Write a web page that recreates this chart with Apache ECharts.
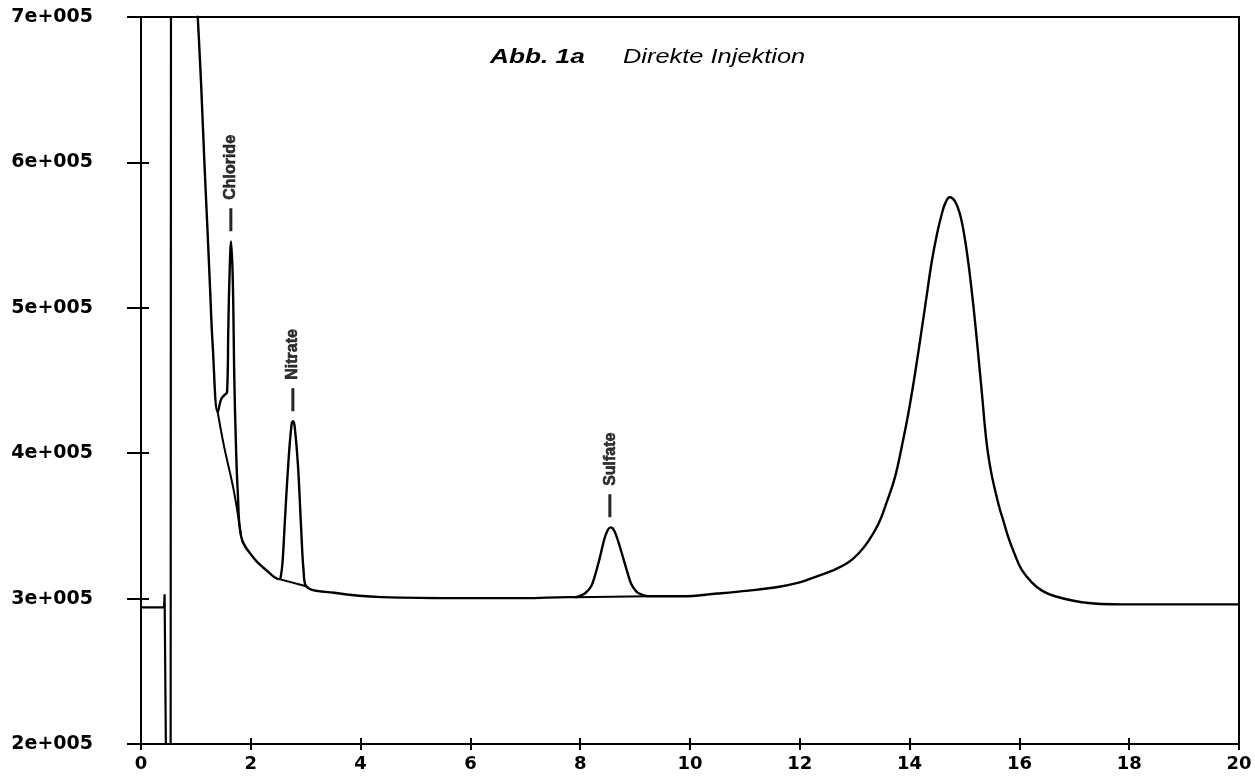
<!DOCTYPE html>
<html>
<head>
<meta charset="utf-8">
<script src="https://cdn.jsdelivr.net/npm/echarts@6/dist/echarts.min.js"></script>
<style>
html,body{margin:0;padding:0;background:#fff;}
#chart{width:1255px;height:779px;}
</style>
</head>
<body>
<div id="chart"></div>
<script>
// Injection artefact at the start of the run (retention time in min, signal)
const startTime  = [0, 0.42, 0.43, 0.45, 0.455, 0.54, 0.547];
const startValue = [294000, 294000, 303000, 303000, 190000, 190000, 800000];

// Main detector trace
const traceTime = [0.99, 1.034, 1.094, 1.158, 1.211, 1.251, 1.307, 1.398, 1.459, 1.52, 1.568, 1.59, 1.61, 1.641, 1.672, 1.70, 1.73, 1.763, 1.823,
  2.042, 2.30, 2.52, 2.55, 2.58, 2.61, 2.68, 2.74, 2.77, 2.80, 2.86, 2.92, 2.96, 3.01,
  3.52, 4.38, 5.96, 7.0, 7.78, 7.9, 8.0, 8.1, 8.2, 8.27, 8.35, 8.44, 8.5, 8.55, 8.6, 8.66, 8.72, 8.79, 8.86, 8.93, 9.0, 9.05, 9.24,
  9.85, 10.5, 11.07, 11.6, 11.98, 12.25, 12.58, 12.88, 13.07, 13.25, 13.44, 13.58, 13.73, 13.86, 13.98, 14.10, 14.22, 14.31, 14.40, 14.50, 14.59, 14.65, 14.73,
  14.83, 14.92, 15.00, 15.08, 15.16, 15.24, 15.32, 15.40, 15.48, 15.56, 15.64, 15.72, 15.80, 15.92, 16.04, 16.23, 16.41, 16.65, 17.14, 17.87, 20];
const traceValue = [734000, 700000, 654700, 597000, 553700, 519400, 473400, 428000, 437000, 440000, 442000, 485000, 519000, 545700, 519000, 451000, 405000, 373000, 342900,
  328400, 319000, 313400, 316000, 326000, 346000, 391000, 419000, 422000, 418000, 391000, 346000, 320000, 308500,
  304000, 301000, 300300, 300300, 301000, 301000, 302000, 304000, 308500, 316000, 327000, 341000, 347000, 349000, 348000, 343000, 336000, 327000, 318000, 310000, 306000, 304000, 301600,
  301600, 303500, 305500, 308000, 311000, 314500, 319000, 324800, 331000, 339500, 352000, 366000, 383000, 405000, 428000, 455000, 485000, 508000, 531000, 551000, 565000, 572000, 576000,
  573000, 564000, 549000, 528000, 502000, 472000, 440000, 408000, 388000, 374000, 362000, 352000, 342000, 330000, 320000, 311000, 305500, 301600, 297500, 296000, 296000];

// Integration baselines drawn under the peaks
const chlorideBaseTime  = [1.398, 1.513, 1.696, 1.823];
const chlorideBaseValue = [428000, 404700, 373100, 342900];
const nitrateBaseTime   = [2.52, 3.01];
const nitrateBaseValue  = [313400, 308500];
const sulfateBaseTime   = [7.9, 9.24];
const sulfateBaseValue  = [301000, 301600];

// Peak labels
const peakNames = ['Chloride', 'Nitrate', 'Sulfate'];
const peakTime  = [1.641, 2.77, 8.55];
const peakValue = [545700, 422000, 349000];

// Tick labels
const xTickLabels = ['0','2','4','6','8','10','12','14','16','18','20'];
const yTickLabels = ['2e+005','3e+005','4e+005','5e+005','6e+005','7e+005'];

const zip = (a, b) => a.map((v, i) => [v, b[i]]);

const chart = echarts.init(document.getElementById('chart'), null, {renderer: 'canvas'});

const axisFont = {fontFamily: 'DejaVu Sans', fontWeight: 'bold', color: '#000'};

const option = {
  animation: false,
  backgroundColor: '#fff',
  grid: {left: 141, right: 16, top: 17, bottom: 35, show: true, borderColor: '#000', borderWidth: 2, backgroundColor: 'transparent'},
  graphic: [
    {type: 'text', x: 490, y: 57, scaleX: 1.25, scaleY: 1,
      style: {text: 'Abb. 1a', font: 'italic bold 21px "Liberation Sans"', fill: '#000', verticalAlign: 'middle', textVerticalAlign: 'middle'}},
    {type: 'text', x: 623, y: 57, scaleX: 1.21, scaleY: 1,
      style: {text: 'Direkte Injektion', font: 'italic 21px "Liberation Sans"', fill: '#000', verticalAlign: 'middle', textVerticalAlign: 'middle'}}
  ],
  xAxis: [
    {type: 'value', min: 0, max: 20, interval: 2, position: 'bottom',
      axisLine: {show: true, lineStyle: {color: '#000', width: 2}},
      axisTick: {show: true, inside: false, length: 6, lineStyle: {color: '#000', width: 2}},
      axisLabel: Object.assign({fontSize: 18, margin: 11, formatter: (v) => xTickLabels[Math.round(v / 2)]}, axisFont),
      splitLine: {show: false}},
    {type: 'value', min: 0, max: 20, interval: 2, position: 'bottom',
      axisLine: {show: false},
      axisTick: {show: true, inside: true, length: 6, lineStyle: {color: '#000', width: 2}},
      axisLabel: {show: false}, splitLine: {show: false}}
  ],
  yAxis: [
    {type: 'value', min: 200000, max: 700000, interval: 100000, position: 'left',
      axisLine: {show: true, lineStyle: {color: '#000', width: 2}},
      axisTick: {show: true, inside: false, length: 14, lineStyle: {color: '#000', width: 2}},
      axisLabel: Object.assign({fontSize: 19, margin: 48, formatter: (v) => yTickLabels[Math.round((v - 200000) / 100000)]}, axisFont),
      splitLine: {show: false}},
    {type: 'value', min: 200000, max: 700000, interval: 100000, position: 'left',
      axisLine: {show: false},
      axisTick: {show: true, inside: true, length: 8, lineStyle: {color: '#000', width: 2}},
      axisLabel: {show: false}, splitLine: {show: false}}
  ],
  series: [
    {type: 'line', name: 'start', data: zip(startTime, startValue), showSymbol: false, symbol: 'none',
      clip: true, lineStyle: {color: '#000', width: 2.2}},
    {type: 'line', name: 'trace', data: zip(traceTime, traceValue), showSymbol: false, symbol: 'none',
      smooth: 0.4, clip: true, lineStyle: {color: '#000', width: 2.4}},
    {type: 'line', name: 'baseCl', data: zip(chlorideBaseTime, chlorideBaseValue), showSymbol: false, symbol: 'none',
      smooth: 0.4, lineStyle: {color: '#000', width: 2}},
    {type: 'line', name: 'baseNO3', data: zip(nitrateBaseTime, nitrateBaseValue), showSymbol: false, symbol: 'none',
      lineStyle: {color: '#000', width: 2}},
    {type: 'line', name: 'baseSO4', data: zip(sulfateBaseTime, sulfateBaseValue), showSymbol: false, symbol: 'none',
      lineStyle: {color: '#000', width: 2}},
    {type: 'scatter', name: 'labels',
      data: peakNames.map((n, i) => ({name: n, value: [peakTime[i], peakValue[i]]})),
      symbolSize: 1, itemStyle: {color: 'rgba(0,0,0,0)'},
      label: {show: true, position: 'top', distance: 10, rotate: 90, align: 'left', verticalAlign: 'middle', color: '#000',
        formatter: (p) => '{d|\u2014}{n|' + p.name + '}',
        rich: {
          d: {fontSize: 22, fontWeight: 'bold', fontFamily: 'Liberation Sans', color: '#000', textBorderColor: '#000', textBorderWidth: 0.8},
          n: {fontSize: 16, fontWeight: 'bold', fontFamily: 'Liberation Sans', color: '#000', textBorderColor: '#000', textBorderWidth: 0.6, padding: [0, 0, 0, 9]}
        }}}
  ]
};
chart.setOption(option);
</script>
</body>
</html>
